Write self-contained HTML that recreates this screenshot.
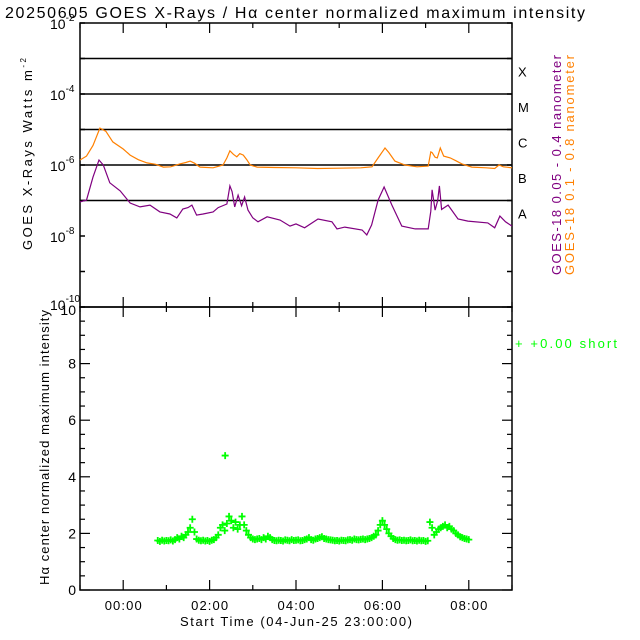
<!DOCTYPE html>
<html><head><meta charset="utf-8">
<style>
html,body{margin:0;padding:0;background:#fff;}
svg{display:block;font-family:"Liberation Sans",sans-serif;}
</style></head>
<body>
<svg id="chart" width="640" height="640" viewBox="0 0 640 640" xmlns="http://www.w3.org/2000/svg">
<rect x="0" y="0" width="640" height="640" fill="#fff"/>
<text x="5" y="18" font-size="16" fill="#000" textLength="580" lengthAdjust="spacing">20250605 GOES X-Rays / Hα center normalized maximum intensity</text>
<g id="topPanel"></g>
<g id="botPanel"></g>
<text transform="translate(32,250) rotate(-90)" font-size="13" textLength="192" lengthAdjust="spacing">GOES X-Rays Watts m<tspan font-size="8" dy="-6">-2</tspan></text>
<text transform="translate(49,585) rotate(-90)" font-size="13" textLength="275" lengthAdjust="spacing">Hα center normalized maximum intensity</text>
<text x="180" y="626" font-size="13" textLength="232" lengthAdjust="spacing">Start Time (04-Jun-25 23:00:00)</text>
<text transform="translate(561,275) rotate(-90)" font-size="13" fill="#800080" textLength="220" lengthAdjust="spacing">GOES-18 0.05 - 0.4 nanometer</text>
<text transform="translate(574,275) rotate(-90)" font-size="13" fill="#ff8000" textLength="220" lengthAdjust="spacing">GOES-18  0.1 - 0.8 nanometer</text>
<text x="515" y="348" font-size="13" fill="#00ff00" textLength="102" lengthAdjust="spacing">+  +0.00 short</text>
</svg>
<script>
const tickHours=[0,2,4,6,8];
const tickLabels=["00:00","02:00","04:00","06:00","08:00"];
const logTicks=[-2,-4,-6,-8,-10];
const flareClasses=["X","M","C","B","A"];
const flareLevels=[-3,-4,-5,-6,-7];
const longT=[-1,-0.85,-0.7,-0.54,-0.4,-0.24,0,0.16,0.35,0.55,0.75,0.93,1.1,1.31,1.45,1.55,1.65,1.78,2.08,2.31,2.4,2.47,2.55,2.63,2.7,2.78,2.86,2.94,3.1,3.5,4,4.5,5,5.5,5.76,5.9,6.06,6.15,6.29,6.52,6.8,7.06,7.12,7.15,7.22,7.27,7.34,7.42,7.57,7.7,7.84,8.07,8.4,8.6,8.7,8.8,9];
const longV=[-5.86,-5.75,-5.45,-4.96,-5.05,-5.35,-5.55,-5.72,-5.85,-5.94,-5.98,-6.06,-6.05,-5.97,-5.93,-5.89,-5.95,-6.06,-6.08,-6.0,-5.8,-5.6,-5.7,-5.77,-5.68,-5.72,-5.85,-6.0,-6.06,-6.07,-6.08,-6.1,-6.09,-6.08,-6.05,-5.8,-5.52,-5.65,-5.89,-6.0,-6.05,-6.03,-5.63,-5.65,-5.78,-5.8,-5.52,-5.75,-5.8,-5.88,-5.97,-6.06,-6.08,-6.1,-6.0,-6.05,-6.08];
const shortT=[-1,-0.85,-0.7,-0.56,-0.46,-0.31,-0.07,0.16,0.39,0.62,0.85,1.08,1.24,1.38,1.5,1.59,1.7,1.85,2.08,2.2,2.4,2.47,2.52,2.58,2.66,2.74,2.81,2.89,3.0,3.12,3.33,3.63,3.86,4.0,4.2,4.51,4.83,4.95,5.13,5.53,5.64,5.75,5.9,6.04,6.22,6.45,6.76,7.06,7.12,7.15,7.22,7.28,7.32,7.37,7.52,7.75,7.98,8.44,8.6,8.72,8.85,9];
const shortV=[-7.04,-6.99,-6.34,-5.86,-6.0,-6.5,-6.73,-7.07,-7.18,-7.13,-7.32,-7.38,-7.49,-7.24,-7.2,-7.13,-7.41,-7.38,-7.32,-7.2,-7.1,-6.59,-6.75,-7.18,-6.85,-7.15,-6.9,-7.27,-7.49,-7.6,-7.46,-7.55,-7.72,-7.66,-7.77,-7.52,-7.6,-7.8,-7.75,-7.83,-7.97,-7.69,-6.99,-6.62,-7.13,-7.72,-7.8,-7.8,-7.3,-6.7,-7.27,-7.0,-6.59,-7.25,-7.13,-7.52,-7.58,-7.63,-7.77,-7.44,-7.6,-7.72];
const haT=[0.80,0.85,0.90,0.95,1.00,1.05,1.10,1.15,1.20,
1.25,1.30,1.35,1.40,1.45,1.50,1.55,1.60,1.65,1.70,1.75,
1.80,1.85,1.90,1.95,2.00,2.05,2.10,2.15,
2.20,2.25,2.30,2.35,2.40,2.45,2.50,2.55,2.60,2.65,2.70,2.75,2.80,2.85,2.90,2.95,3.00,
3.05,3.10,3.15,3.20,3.25,3.30,3.35,3.40,3.45,3.50,
3.55,3.60,3.65,3.70,3.75,3.80,3.85,3.90,3.95,4.00,4.05,4.10,4.15,4.20,4.25,4.30,4.35,4.40,4.45,4.50,4.55,4.60,4.65,4.70,4.75,4.80,
4.85,4.90,4.95,5.00,5.05,5.10,5.15,5.20,5.25,5.30,5.35,5.40,5.45,5.50,5.55,5.60,5.65,5.70,5.75,5.80,
5.85,5.90,5.95,6.00,6.05,6.10,6.15,6.20,6.25,6.30,6.35,6.40,
6.45,6.50,6.55,6.60,6.65,6.70,6.75,6.80,6.85,6.90,6.95,7.00,7.05,
7.10,7.15,7.20,7.25,7.30,7.35,7.40,7.45,7.50,7.55,7.60,7.65,7.70,7.75,7.80,7.85,7.90,7.95,8.00,
2.36];
const haV=[1.75,1.72,1.76,1.73,1.75,1.74,1.77,1.73,1.78,
1.85,1.8,1.9,1.85,1.95,2.05,2.2,2.5,2.05,1.8,1.76,
1.74,1.76,1.73,1.75,1.72,1.76,1.78,1.85,
1.95,2.2,2.3,2.1,2.35,2.6,2.45,2.2,2.4,2.15,2.3,2.6,2.3,2.1,1.95,1.85,1.8,
1.78,1.8,1.82,1.78,1.85,1.8,1.9,1.85,1.78,1.75,
1.74,1.76,1.75,1.73,1.77,1.76,1.74,1.78,1.75,1.76,1.77,1.74,1.75,1.78,1.8,1.85,1.78,1.76,1.8,1.82,1.85,1.88,1.82,1.8,1.78,1.77,
1.76,1.74,1.75,1.73,1.76,1.75,1.74,1.77,1.78,1.76,1.8,1.78,1.77,1.79,1.8,1.78,1.8,1.82,1.85,1.9,
1.95,2.1,2.3,2.45,2.3,2.15,2.0,1.9,1.82,1.78,1.76,1.77,
1.75,1.76,1.74,1.75,1.77,1.74,1.75,1.73,1.76,1.74,1.75,1.72,1.74,
2.4,2.2,1.95,2.05,2.15,2.2,2.25,2.3,2.2,2.25,2.15,2.1,2.0,1.95,1.88,1.85,1.82,1.8,1.78,
4.75];

const NS="http://www.w3.org/2000/svg";
const X0=80,X1=512,T0=-1,T1=9;
const TY0=23,TY1=307,BY0=307,BY1=590;
function xs(t){return X0+(t-T0)/(T1-T0)*(X1-X0);}
function ylog(v){return TY0+(-2-v)/8*(TY1-TY0);}
function yha(v){return BY1-v/10*(BY1-BY0);}
function mk(tag,attrs,parent){const e=document.createElementNS(NS,tag);for(const k in attrs)e.setAttribute(k,attrs[k]);parent.appendChild(e);return e;}
const topG=document.getElementById('topPanel'),botG=document.getElementById('botPanel');

let r=mk('rect',{x:X0,y:TY0,width:X1-X0,height:TY1-TY0,fill:'none',stroke:'#000','stroke-width':1.5},topG);


flareLevels.forEach((v,i)=>{
  const y=ylog(v);
  const l=mk('line',{x1:X0,x2:X1,y1:y,y2:y,stroke:'#000','stroke-width':1.5},topG);
  
  
  const t=mk('text',{x:518,y:y+18,'font-size':13},topG);
  t.textContent=flareClasses[i];
  
  
});
for(let v=-2;v>=-10;v--){
  const y=ylog(v);
  mk('line',{x1:X0,x2:X0+5,y1:y,y2:y,stroke:'#000','stroke-width':1.5},topG);
  mk('line',{x1:X1-5,x2:X1,y1:y,y2:y,stroke:'#000','stroke-width':1.5},topG);
}
logTicks.forEach(v=>{
  const y=ylog(v)-(v===-10?3:0);
  const t=mk('text',{x:50,y:y+6,'font-size':14,'text-anchor':'start'},topG);
  t.textContent='10';
  const s=mk('tspan',{'font-size':10,dy:-8},t);
  s.textContent=String(v);
  
  
});
for(let h=-1;h<=9;h++){
  const x=xs(h),len=(h%2===0)?10:5;
  [[TY0,1],[TY1,-1],[BY0,1],[BY1,-1]].forEach(([y,d])=>{
    mk('line',{x1:x,x2:x,y1:y,y2:y+d*len,stroke:'#000','stroke-width':1.2},topG);
  });
}
function pathFrom(T,V,yf){return T.map((t,i)=>(i?'L':'M')+xs(t).toFixed(1)+','+yf(V[i]).toFixed(1)).join(' ');}
const pl=mk('path',{d:pathFrom(longT,longV,ylog),fill:'none',stroke:'#ff8000','stroke-width':1.2},topG);


const ps=mk('path',{d:pathFrom(shortT,shortV,ylog),fill:'none',stroke:'#800080','stroke-width':1.2},topG);



r=mk('rect',{x:X0,y:BY0,width:X1-X0,height:BY1-BY0,fill:'none',stroke:'#000','stroke-width':1.5},botG);


for(let v=0;v<=10;v+=0.5){
  const y=yha(v),len=(v%2===0)?10:5;
  mk('line',{x1:X0,x2:X0+len,y1:y,y2:y,stroke:'#000','stroke-width':1.2},botG);
  mk('line',{x1:X1-len,x2:X1,y1:y,y2:y,stroke:'#000','stroke-width':1.2},botG);
  if(v%2===0){
    const t=mk('text',{x:76,y:y+5+(v===10?3:0),'font-size':14,'text-anchor':'end'},botG);
    t.textContent=String(v);
    
    
  }
}
tickHours.forEach((h,i)=>{
  const t=mk('text',{x:xs(h),y:610,'font-size':13,'text-anchor':'middle',textLength:37,lengthAdjust:'spacing'},botG);
  t.textContent=tickLabels[i];
  
  
});
const g=mk('g',{stroke:'#00ff00','stroke-width':1.8},botG);


haT.forEach((t,i)=>{
  const x=xs(t),y=yha(haV[i]);
  const p=mk('path',{d:`M${x-3.5},${y}h7M${x},${y-3.5}v7`},g);
  
  
});
</script>
</body></html>
